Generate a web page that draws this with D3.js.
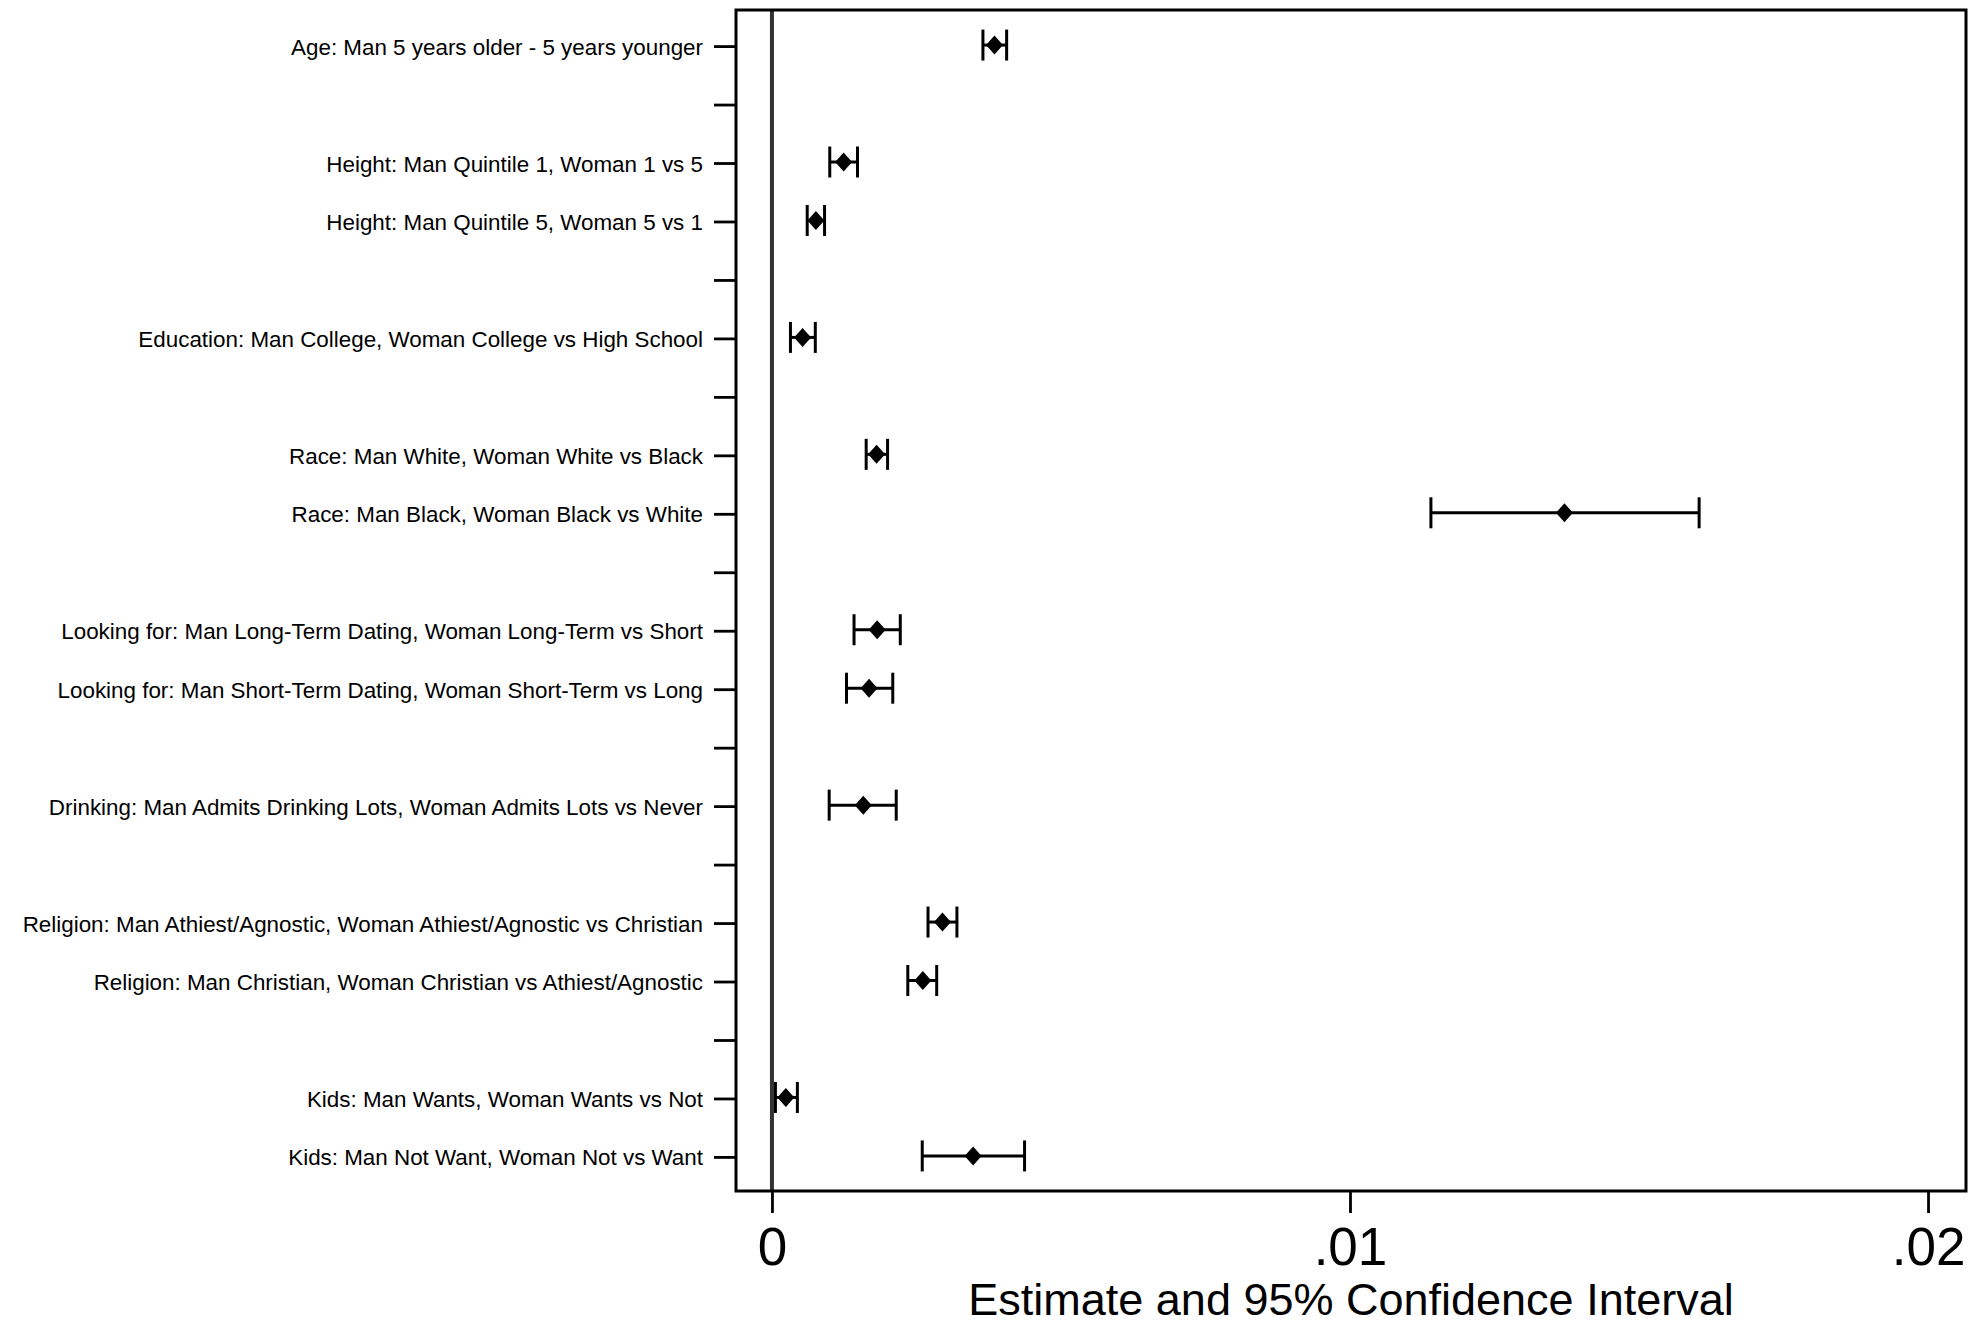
<!DOCTYPE html>
<html>
<head>
<meta charset="utf-8">
<script src="https://cdn.jsdelivr.net/npm/d3@7"></script>
<style>
  body { margin: 0; background: #fff; }
  svg { display: block; font-family: "Liberation Sans", Arial, sans-serif; }
</style>
</head>
<body>
<svg id="chart" width="1982" height="1325"></svg>
<script>
// rows top to bottom, "" = spacer row between groups
const rowLabels = [
  "Age: Man 5 years older - 5 years younger",
  "",
  "Height: Man Quintile 1, Woman 1 vs 5",
  "Height: Man Quintile 5, Woman 5 vs 1",
  "",
  "Education: Man College, Woman College vs High School",
  "",
  "Race: Man White, Woman White vs Black",
  "Race: Man Black, Woman Black vs White",
  "",
  "Looking for: Man Long-Term Dating, Woman Long-Term vs Short",
  "Looking for: Man Short-Term Dating, Woman Short-Term vs Long",
  "",
  "Drinking: Man Admits Drinking Lots, Woman Admits Lots vs Never",
  "",
  "Religion: Man Athiest/Agnostic, Woman Athiest/Agnostic vs Christian",
  "Religion: Man Christian, Woman Christian vs Athiest/Agnostic",
  "",
  "Kids: Man Wants, Woman Wants vs Not",
  "Kids: Man Not Want, Woman Not vs Want"
];
const estimate = [0.00385, null, 0.00124, 0.00076, null, 0.00053, null, 0.00181, 0.01371, null,
  0.00182, 0.00168, null, 0.00158, null, 0.00295, 0.00261, null, 0.00024, 0.00348];
const lower = [0.00365, null, 0.00100, 0.00061, null, 0.00032, null, 0.00163, 0.01140, null,
  0.00142, 0.00129, null, 0.00099, null, 0.00270, 0.00235, null, 0.00006, 0.00260];
const upper = [0.00406, null, 0.00148, 0.00091, null, 0.00075, null, 0.00200, 0.01604, null,
  0.00222, 0.00209, null, 0.00215, null, 0.00320, 0.00285, null, 0.00044, 0.00437];
const xTicks = [0, 0.01, 0.02];
const xTickLabels = ["0", ".01", ".02"];
const xTitle = "Estimate and 95% Confidence Interval";

const svg = d3.select("#chart");
const plotLeft = 736, plotRight = 1966, plotTop = 10, plotBottom = 1191;

const x = d3.scaleLinear().domain([-0.000622, 0.020657]).range([plotLeft, plotRight]);
const y = d3.scaleLinear().domain([0.4, rowLabels.length + 0.6]).range([plotTop, plotBottom]);

const rows = rowLabels.map((label, i) => ({
  label: label, pos: i + 1, est: estimate[i], lo: lower[i], hi: upper[i]
}));

// y axis ticks + labels
const yAxis = d3.axisLeft(y)
  .tickValues(rows.map(d => d.pos))
  .tickFormat(d => rowLabels[d - 1])
  .tickSize(22)
  .tickPadding(11);
const gy = svg.append("g").attr("transform", `translate(${plotLeft},1)`).call(yAxis);
gy.select(".domain").remove();
gy.selectAll(".tick line").attr("stroke", "#000").attr("stroke-width", 2.8);
gy.selectAll(".tick text")
  .attr("font-size", 22.4)
  .attr("dy", "0.36em")
  .attr("fill", "#000")
  .attr("font-family", "Liberation Sans, Arial, sans-serif");

// x axis
const xAxis = d3.axisBottom(x)
  .tickValues(xTicks)
  .tickFormat((d, i) => xTickLabels[i])
  .tickSize(22)
  .tickPadding(14);
const gx = svg.append("g").attr("transform", `translate(0,${plotBottom})`).call(xAxis);
gx.select(".domain").remove();
gx.selectAll(".tick line").attr("stroke", "#000").attr("stroke-width", 2.8);
gx.selectAll(".tick text")
  .attr("font-size", 53)
  .attr("fill", "#000")
  .attr("font-family", "Liberation Sans, Arial, sans-serif");

svg.append("text")
  .attr("x", (plotLeft + plotRight) / 2)
  .attr("y", 1315)
  .attr("text-anchor", "middle")
  .attr("font-size", 45)
  .attr("fill", "#000")
  .text(xTitle);

// zero reference line
svg.append("line")
  .attr("x1", x(0)).attr("x2", x(0))
  .attr("y1", plotTop).attr("y2", plotBottom)
  .attr("stroke", "#333")
  .attr("stroke-width", 4);

// confidence intervals
const data = rows.filter(d => d.est != null);
const ci = svg.append("g").attr("stroke", "#000").attr("stroke-width", 3).attr("fill", "none");
ci.selectAll("line.bar").data(data).join("line")
  .attr("class", "bar")
  .attr("x1", d => x(d.lo)).attr("x2", d => x(d.hi))
  .attr("y1", d => y(d.pos)).attr("y2", d => y(d.pos));
ci.selectAll("line.capl").data(data).join("line")
  .attr("class", "capl")
  .attr("x1", d => x(d.lo)).attr("x2", d => x(d.lo))
  .attr("y1", d => y(d.pos) - 15.5).attr("y2", d => y(d.pos) + 15.5);
ci.selectAll("line.caph").data(data).join("line")
  .attr("class", "caph")
  .attr("x1", d => x(d.hi)).attr("x2", d => x(d.hi))
  .attr("y1", d => y(d.pos) - 15.5).attr("y2", d => y(d.pos) + 15.5);

// diamonds for point estimates
svg.append("g").selectAll("path").data(data).join("path")
  .attr("transform", d => `translate(${x(d.est)},${y(d.pos)})`)
  .attr("d", "M0,-9.5L8.5,0L0,9.5L-8.5,0Z")
  .attr("fill", "#000");

// plot frame
svg.append("rect")
  .attr("x", plotLeft).attr("y", plotTop)
  .attr("width", plotRight - plotLeft).attr("height", plotBottom - plotTop)
  .attr("fill", "none")
  .attr("stroke", "#000")
  .attr("stroke-width", 3);
</script>
</body>
</html>
